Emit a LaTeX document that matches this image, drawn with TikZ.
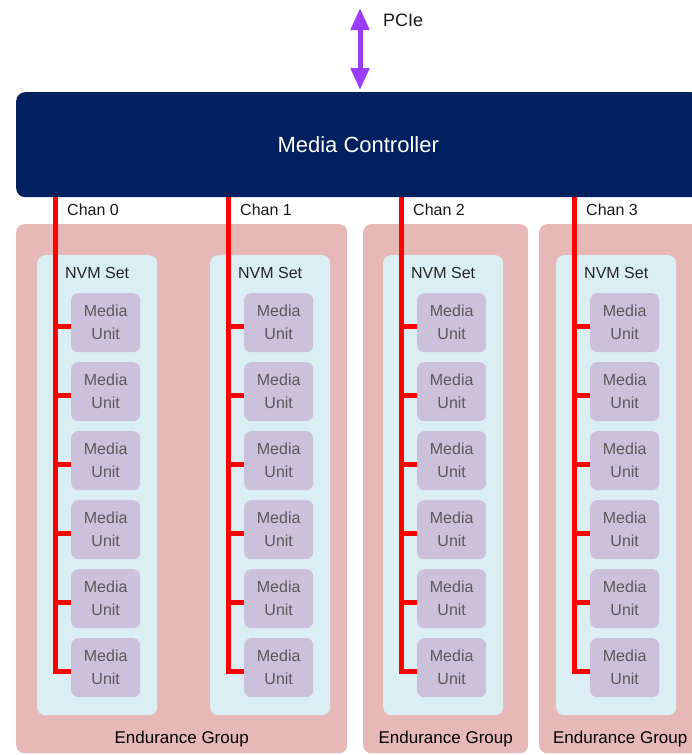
\documentclass[tikz,border=0pt]{standalone}
\usepackage{fontspec}
\setmainfont{Liberation Sans}
\usetikzlibrary{arrows.meta, positioning}
\definecolor{ctrlnavy}{HTML}{002060}
\definecolor{egpink}{HTML}{E6B9B8}
\definecolor{setblue}{HTML}{DAEEF3}
\definecolor{unitlilac}{HTML}{CCC1DA}
\definecolor{unitgrey}{HTML}{5A5A5A}
\definecolor{pcieviolet}{HTML}{9B3DFF}
\definecolor{busred}{HTML}{FF0000}

\begin{document}
\begin{tikzpicture}[x=1pt,y=-1pt,
    ctrl/.style={fill=ctrlnavy,rounded corners=9pt,anchor=north west,inner sep=0pt,
      text=white,font=\fontsize{22}{26}\selectfont},
    egbox/.style={fill=egpink,rounded corners=8pt,anchor=north west,inner sep=0pt,minimum height=529pt},
    eglabel/.style={font=\fontsize{17}{20}\selectfont,text=black},
    setbox/.style={fill=setblue,rounded corners=8pt,anchor=north west,inner sep=0pt,
      minimum width=120pt,minimum height=460pt},
    setlabel/.style={font=\fontsize{16}{19}\selectfont,text=black!85},
    unit/.style={fill=unitlilac,rounded corners=7pt,anchor=north west,inner sep=0pt,
      minimum width=69pt,minimum height=59pt,align=center,text=unitgrey,
      font=\fontsize{16}{23}\selectfont},
    chanlabel/.style={anchor=west,inner sep=0pt,font=\fontsize{16}{19}\selectfont,text=black!90},
    bus/.style={busred,line width=5pt},
    pciearrow/.style={pcieviolet,line width=5pt,{Triangle[width=18pt,length=22pt]}-{Triangle[width=18pt,length=22pt]}}]
  \useasboundingbox (0,0) rectangle (692,755);
  \clip (0,0) rectangle (692,755);

  % endurance groups
  \node[egbox,minimum width=331pt] (eg0) at (16,224) {};
  \node[egbox,minimum width=165pt] (eg1) at (363,224) {};
  \node[egbox,minimum width=162pt] (eg2) at (539,224) {};
  \foreach \g in {0,1,2}
    \node[eglabel] (eg\g-label) at ([yshift=14pt]eg\g.south) {Endurance Group};

  % controller and host link
  \node[ctrl,minimum width=684pt,minimum height=105pt] (ctrl) at (16,92) {Media Controller};
  \coordinate (host) at (360,8);
  \draw[pciearrow] (host) -- ([yshift=2pt]ctrl.north -| host);
  \node[anchor=west,inner sep=0pt,font=\fontsize{18}{21}\selectfont,text=black!90] (pcie) at (383,20) {PCIe};

  % NVM sets, media units and channels
  \foreach \i/\sx in {0/37,1/210,2/383,3/556}{
    \node[setbox] (set\i) at (\sx,255) {};
    \node[setlabel] (set\i-label) at ([yshift=-18pt]set\i.north) {NVM Set};
    \foreach \j in {1,...,6}
      \node[unit] (u\i-\j) at ({\sx+34},{293+69*(\j-1)}) {Media\\Unit};
    \coordinate (c\i) at ({\sx+18},197);
    \node[chanlabel] (chan\i) at ({\sx+30},210) {Chan \i};
    \draw[bus] (c\i) |- ([yshift=-4pt]u\i-6.west);
    \foreach \j in {1,...,5}
      \draw[bus] ([yshift=-4pt]u\i-\j.west -| c\i) -- ([yshift=-4pt]u\i-\j.west);
  }
\end{tikzpicture}
\end{document}
